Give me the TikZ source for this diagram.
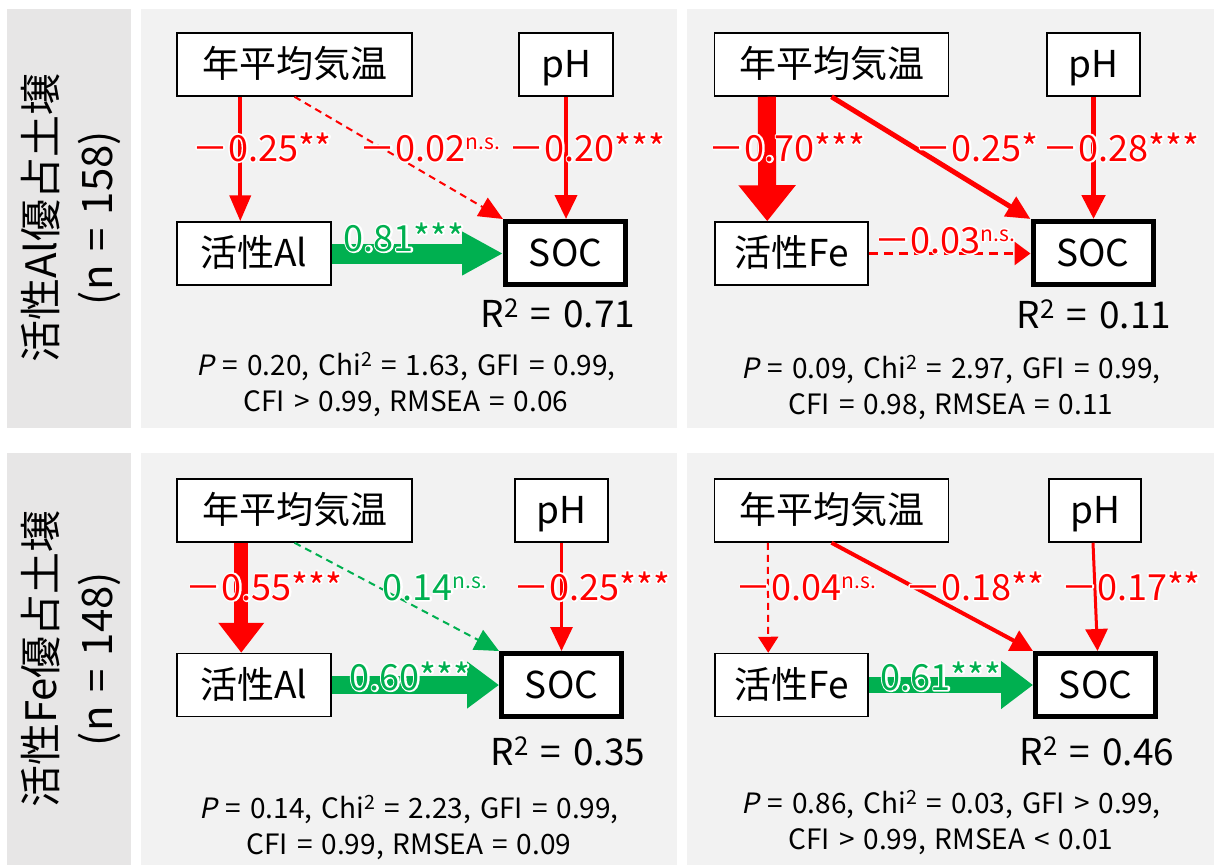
\documentclass[tikz,border=0pt]{standalone}
\usepackage{fontspec}
\setmainfont{Noto Sans CJK JP}
\newfontfamily\myital[FakeSlant=0.2]{Noto Sans CJK JP}
\usetikzlibrary{arrows.meta,calc}
\definecolor{myred}{HTML}{FF0000}
\definecolor{mygreen}{HTML}{00B050}
\definecolor{sidebg}{HTML}{E7E6E6}
\definecolor{panelbg}{HTML}{F2F2F2}
% white outline under a coloured label: one stroked white copy, then the fill
\newcommand\hlo[2]{\makebox[0pt][l]{\color{white}\special{pdf:literal direct 1 Tr 3.4 w 1 j}#2\special{pdf:literal direct 0 Tr}}{\color{#1}#2}}
\newcommand\ns{\raisebox{12pt}{\fontsize{21}{21}\selectfont n.s.}}
\newcommand\widesp{\spaceskip=0.32em\relax}
\tikzset{
  box/.style={draw=black, line width=1.5pt, fill=white, minimum height=63pt, inner sep=0pt, font=\fontsize{37}{37}\selectfont, text height=26pt, text depth=0pt},
  socbox/.style={box, line width=5pt, minimum height=63pt, minimum width=120pt},
  lab/.style={inner sep=0pt, font=\fontsize{36}{36}\selectfont, text height=26pt, text depth=0pt},
  rsq/.style={inner sep=0pt, font=\fontsize{37}{37}\selectfont, text height=26pt, text depth=0pt},
  stat/.style={align=center, inner sep=0pt, font=\fontsize{28}{36}\selectfont},
  side/.style={rotate=90, align=center, inner sep=0pt, font=\fontsize{42}{56}\selectfont},
}
\begin{document}
\begin{tikzpicture}[x=1pt,y=-1pt]
\path[use as bounding box] (0,0) rectangle (1214,865);
% panels
\fill[sidebg] (7,9) rectangle (131,428);
\fill[panelbg] (141,9) rectangle (677,428);
\fill[panelbg] (687,9) rectangle (1214,428);
\fill[sidebg] (7,453) rectangle (131,865);
\fill[panelbg] (141,453) rectangle (677,865);
\fill[panelbg] (687,453) rectangle (1214,865);
\node[side] (s1) at (71,218) {活性Al優占土壌\\\widesp(n = 158)};
\node[side] (s2) at (71,659) {活性Fe優占土壌\\\widesp(n = 148)};

% ===== top-left =====
\node[box, minimum width=235pt] (ta1) at (294.5,64.5) {年平均気温};
\node[box, minimum width=94pt] (ph1) at (566,64.5) {pH};
\node[box, minimum width=154pt] (al1) at (254,253.5) {活性Al};
\node[socbox] (soc1) at (565.5,253) {SOC};
\draw[myred, line width=4pt, -{Triangle[length=26pt,width=21pt]}] ([xshift=64pt]ta1.south west) -- ([xshift=64pt]al1.north west);
\draw[myred, line width=2pt, dash pattern=on 7pt off 5pt, -{Triangle[length=24pt,width=21pt]}] (ta1.south) -- (soc1.north west);
\draw[myred, line width=4pt, -{Triangle[length=24pt,width=22pt]}] (ph1.south) -- (ph1.south |- soc1.north);
\draw[mygreen, line width=20pt, -{Triangle[length=41pt,width=41pt]}] (al1.east) -- (al1.east -| soc1.west);
\node[lab] (l11) at (262,148) {\hlo{myred}{－0.25**}};
\node[lab] (l12) at (430,148) {\hlo{myred}{－0.02\ns}};
\node[lab] (l13) at (587,148) {\hlo{myred}{－0.20***}};
\node[lab] (l14) at (404,238) {\hlo{mygreen}{0.81***}};
\node[rsq] (r1) at (558,314) {\widesp R\textsuperscript{2} = 0.71};
\node[stat] (st1) at (406,385) {\widesp{\myital P} = 0.20, Chi\textsuperscript{2} = 1.63, GFI = 0.99,\\\widesp CFI > 0.99, RMSEA = 0.06};

% ===== top-right =====
\node[box, minimum width=234pt] (ta2) at (831.5,64.5) {年平均気温};
\node[box, minimum width=93pt] (ph2) at (1093.5,64.5) {pH};
\node[box, minimum width=153pt] (fe2) at (791.5,253.5) {活性Fe};
\node[socbox] (soc2) at (1093,253) {SOC};
\draw[myred, line width=18pt, -{Triangle[length=36pt,width=55pt]}] ([xshift=53pt]ta2.south west) -- ([xshift=53pt]fe2.north west);
\draw[myred, line width=5pt, -{Triangle[length=24pt,width=22pt]}] (ta2.south) -- (soc2.north west);
\draw[myred, line width=5pt, -{Triangle[length=24pt,width=23pt]}] (ph2.south) -- (ph2.south |- soc2.north);
\draw[myred, line width=3pt, dash pattern=on 9pt off 6pt, -{Triangle[length=16pt,width=23pt]}] (fe2.east) -- (fe2.east -| soc2.west);
\node[lab] (l21) at (787,148) {\hlo{myred}{－0.70***}};
\node[lab] (l22) at (977,148) {\hlo{myred}{－0.25*}};
\node[lab] (l23) at (1121,148) {\hlo{myred}{－0.28***}};
\node[lab] (l24) at (945,240) {\hlo{myred}{－0.03\ns}};
\node[rsq] (r2) at (1094,315) {\widesp R\textsuperscript{2} = 0.11};
\node[stat] (st2) at (951,388) {\widesp{\myital P} = 0.09, Chi\textsuperscript{2} = 2.97, GFI = 0.99,\\\widesp CFI = 0.98, RMSEA = 0.11};

% ===== bottom-left =====
\node[box, minimum width=235pt] (ta3) at (294.5,510.5) {年平均気温};
\node[box, minimum width=93pt] (ph3) at (561.5,510.5) {pH};
\node[box, minimum width=154pt] (al3) at (254,685) {活性Al};
\node[socbox] (soc3) at (561.5,685) {SOC};
\draw[myred, line width=14pt, -{Triangle[length=30pt,width=44pt]}] ([xshift=65pt]ta3.south west) -- ([xshift=65pt]al3.north west);
\draw[mygreen, line width=2pt, dash pattern=on 7pt off 5pt, -{Triangle[length=24pt,width=22pt]}] (ta3.south) -- (soc3.north west);
\draw[myred, line width=3pt, -{Triangle[length=24pt,width=22pt]}] (ph3.south) -- (ph3.south |- soc3.north);
\draw[mygreen, line width=18pt, -{Triangle[length=32pt,width=45pt]}] (al3.east) -- (al3.east -| soc3.west);
\node[lab] (l31) at (264,587) {\hlo{myred}{－0.55***}};
\node[lab] (l32) at (435,587) {\hlo{mygreen}{0.14\ns}};
\node[lab] (l33) at (592,587) {\hlo{myred}{－0.25***}};
\node[lab] (l34) at (410,677) {\hlo{mygreen}{0.60***}};
\node[rsq] (r3) at (568,752) {\widesp R\textsuperscript{2} = 0.35};
\node[stat] (st3) at (409,828) {\widesp{\myital P} = 0.14, Chi\textsuperscript{2} = 2.23, GFI = 0.99,\\\widesp CFI = 0.99, RMSEA = 0.09};

% ===== bottom-right =====
\node[box, minimum width=234pt] (ta4) at (831.5,510.5) {年平均気温};
\node[box, minimum width=92pt] (ph4) at (1095,510.5) {pH};
\node[box, minimum width=153pt] (fe4) at (791.5,685) {活性Fe};
\node[socbox] (soc4) at (1095.5,685) {SOC};
\draw[myred, line width=2pt, dash pattern=on 7pt off 5pt, -{Triangle[length=16pt,width=20pt]}] ([xshift=54pt]ta4.south west) -- ([xshift=54pt]fe4.north west);
\draw[myred, line width=4pt, -{Triangle[length=22pt,width=22pt]}] (ta4.south) -- (soc4.north west);
\draw[myred, line width=3pt, -{Triangle[length=22pt,width=22pt]}] ([xshift=-2pt]ph4.south) -- ([xshift=2pt]soc4.north);
\draw[mygreen, line width=16pt, -{Triangle[length=32pt,width=46pt]}] (fe4.east) -- (fe4.east -| soc4.west);
\node[lab] (l41) at (806,587) {\hlo{myred}{－0.04\ns}};
\node[lab] (l42) at (975,587) {\hlo{myred}{－0.18**}};
\node[lab] (l43) at (1131,587) {\hlo{myred}{－0.17**}};
\node[lab] (l44) at (941,677) {\hlo{mygreen}{0.61***}};
\node[rsq] (r4) at (1097,752) {\widesp R\textsuperscript{2} = 0.46};
\node[stat] (st4) at (951,823) {\widesp{\myital P} = 0.86, Chi\textsuperscript{2} = 0.03, GFI > 0.99,\\\widesp CFI > 0.99, RMSEA < 0.01};
\end{tikzpicture}
\end{document}
